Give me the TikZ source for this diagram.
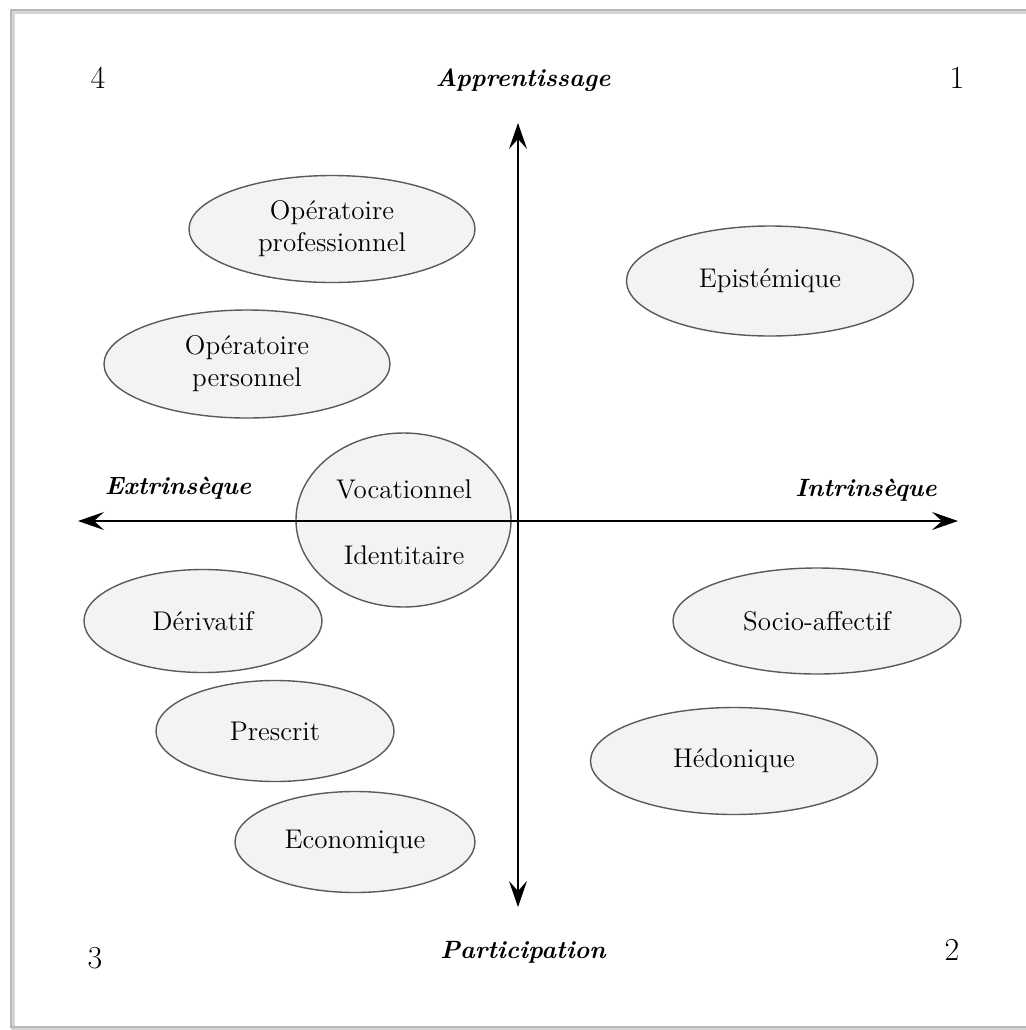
\documentclass[tikz,border=0pt]{standalone}
\usetikzlibrary{arrows.meta,shapes.geometric}
\definecolor{ellfill}{HTML}{F3F3F3}
\definecolor{elldraw}{HTML}{5A5A5A}
\definecolor{framecol}{HTML}{B8B8B8}
\begin{document}
\begin{tikzpicture}[x=0.5pt,y=-0.5pt,
  ell/.style={ellipse, draw=elldraw, fill=ellfill, line width=0.7pt, inner sep=0pt, align=center,
    font=\fontsize{13.5}{16}\selectfont},
  lbl/.style={font=\fontsize{13.5}{16}\selectfont},
  axlbl/.style={font=\fontsize{12.5}{15}\selectfont\bfseries\itshape},
  num/.style={font=\fontsize{16}{18}\selectfont},
  axis/.style={line width=0.75pt, {Stealth[length=13pt,width=9pt,inset=5pt]}-{Stealth[length=13pt,width=9pt,inset=5pt]}}]
\useasboundingbox (0,0) rectangle (1026,1030);
\fill[white] (0,0) rectangle (1026,1030);
% frame
\draw[framecol!60, line width=2pt] (13,12) rectangle (1032,1029);
\draw[framecol, line width=1pt] (11,10) rectangle (1030,1027);
% ellipses
\node[ell, minimum width=143pt, minimum height=53.5pt] (oppro) at (332,229) {Opératoire\\professionnel};
\node[ell, minimum width=143.5pt, minimum height=55pt] (epi) at (770,281) {Epistémique};
\node[ell, minimum width=143pt, minimum height=54pt] (opper) at (247,364) {Opératoire\\personnel};
\node[ell, minimum width=107.5pt, minimum height=87pt] (voc) at (403.5,520) {};
\node[ell, minimum width=119pt, minimum height=51.5pt] (der) at (203,621) {Dérivatif};
\node[ell, minimum width=144pt, minimum height=53pt] (soc) at (817,621) {Socio-affectif};
\node[ell, minimum width=119pt, minimum height=50.5pt] (pre) at (275,731) {Prescrit};
\node[ell, minimum width=143.5pt, minimum height=53.5pt] (hed) at (734,761) {Hédonique};
\node[ell, minimum width=120pt, minimum height=50.5pt] (eco) at (355,842) {Economique};
\node[lbl] (vocl) at (404,489) {Vocationnel};
\node[lbl] (ident) at (404,555) {Identitaire};
% axes
\coordinate (top) at (518,123);
\coordinate (bot) at (518,907);
\coordinate (left) at (78,521);
\coordinate (right) at (958,521);
\draw[axis] (bot) -- (top);
\draw[axis] (left) -- (right);
% axis labels
\node[axlbl] (app) at (523,80) {Apprentissage};
\node[axlbl] (par) at (523,952) {Participation};
\node[axlbl] (ext) at (178,488) {Extrinsèque};
\node[axlbl] (int) at (866,490) {Intrinsèque};
% quadrant numbers
\node[num] (q4) at (98,78) {4};
\node[num] (q1) at (957,78) {1};
\node[num] (q3) at (95,958) {3};
\node[num] (q2) at (952,950) {2};
\end{tikzpicture}
\end{document}
